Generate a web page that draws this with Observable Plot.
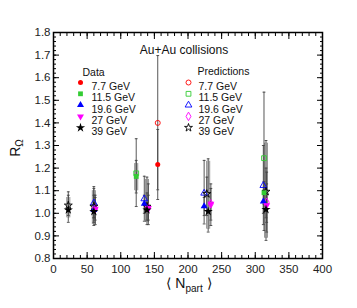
<!DOCTYPE html>
<html><head><meta charset="utf-8">
<script src="https://cdn.jsdelivr.net/npm/d3@7"></script>
<script src="https://cdn.jsdelivr.net/npm/@observablehq/plot@0.6"></script>
<style>
body{margin:0;background:#fff;}
#chart{position:relative;width:357px;height:308px;font-family:"Liberation Sans",Arial,sans-serif;}
</style>
</head><body><div id="chart"></div>
<script>
// ---- data ----
const energies = ["7.7 GeV", "11.5 GeV", "19.6 GeV", "27 GeV", "39 GeV"];
const colors = ["#ff0000", "#33cc33", "#0000ff", "#ff00ff", "#000000"];

// measured (filled markers)
const data77_n = [155];            const data77_r = [1.216];
const data77_lo = [1.061];         const data77_hi = [1.371];
const data115_n = [123, 313];      const data115_r = [1.163, 1.091];
const data115_lo = [1.09, 1.04];   const data115_hi = [1.234, 1.14];
const data196_n = [60, 135, 224, 312];  const data196_r = [1.015, 1.042, 1.031, 1.052];
const data196_lo = [0.98, 1.0, 0.99, 1.0]; const data196_hi = [1.05, 1.08, 1.07, 1.1];
const data27_n = [62, 141, 234, 317];   const data27_r = [1.02, 1.023, 1.042, 1.035];
const data27_lo = [0.95, 0.95, 0.946, 0.917]; const data27_hi = [1.08, 1.13, 1.13, 1.182];
const data39_n = [22, 60, 139, 230, 316]; const data39_r = [1.015, 1.008, 1.015, 1.008, 1.017];
const data39_lo = [0.96, 0.946, 0.95, 0.917, 0.88]; const data39_hi = [1.095, 1.118, 1.16, 1.241, 1.322];
// systematic boxes
const sys_n = [22, 60, 123, 139, 230, 316];
const sys_lo = [0.98, 0.95, 1.1, 0.96, 0.93, 0.89];
const sys_hi = [1.07, 1.1, 1.22, 1.15, 1.23, 1.31];

// predictions (open markers)
const pred77_n = [155];            const pred77_r = [1.40];
const pred77_lo = [1.104];         const pred77_hi = [1.698];
const pred115_n = [123, 313];      const pred115_r = [1.177, 1.244];
const pred115_lo = [1.03, 0.924];  const pred115_hi = [1.33, 1.536];
const pred196_n = [60, 135, 224, 312]; const pred196_r = [1.046, 1.064, 1.089, 1.123];
const pred196_lo = [0.96, 0.965, 0.953, 0.95]; const pred196_hi = [1.11, 1.164, 1.234, 1.3];
const pred27_n = [62, 141, 234, 317];  const pred27_r = [1.02, 1.023, 1.042, 1.049];
const pred27_lo = [0.97, 0.97, 0.97, 0.96]; const pred27_hi = [1.07, 1.08, 1.11, 1.13];
const pred39_n = [22, 60, 139, 228, 316]; const pred39_r = [1.035, 1.03, 1.03, 1.086, 1.096];
const pred39_lo = [0.99, 0.98, 0.97, 0.99, 0.98]; const pred39_hi = [1.08, 1.08, 1.09, 1.16, 1.2];

const xTicks = [0, 50, 100, 150, 200, 250, 300, 350, 400];
const yTicks = [0.8, 0.9, 1.0, 1.1, 1.2, 1.3, 1.4, 1.5, 1.6, 1.7, 1.8];
const xMinor = d3.range(0, 401, 10);
const yMinor = d3.range(80, 181, 2).map(v => v / 100);

const titleText = "Au+Au collisions";
const dataHeader = "Data";
const predHeader = "Predictions";

// ---- build tables ----
function rows(n, r, lo, hi, s, kind) {
  return n.map((v, i) => ({n: v, r: r[i], lo: lo[i], hi: hi[i], s, kind}));
}
const dataSets = [
  rows(data77_n, data77_r, data77_lo, data77_hi, 0, "data"),
  rows(data115_n, data115_r, data115_lo, data115_hi, 1, "data"),
  rows(data196_n, data196_r, data196_lo, data196_hi, 2, "data"),
  rows(data27_n, data27_r, data27_lo, data27_hi, 3, "data"),
  rows(data39_n, data39_r, data39_lo, data39_hi, 4, "data")
];
const predSets = [
  rows(pred77_n, pred77_r, pred77_lo, pred77_hi, 0, "pred"),
  rows(pred115_n, pred115_r, pred115_lo, pred115_hi, 1, "pred"),
  rows(pred196_n, pred196_r, pred196_lo, pred196_hi, 2, "pred"),
  rows(pred27_n, pred27_r, pred27_lo, pred27_hi, 3, "pred"),
  rows(pred39_n, pred39_r, pred39_lo, pred39_hi, 4, "pred")
];
const allRows = [...dataSets.flat(), ...predSets.flat()];
const sysRows = sys_n.map((v, i) => ({n: v, lo: sys_lo[i], hi: sys_hi[i]}));

// ---- symbols ----
const downTriangle = {draw(ctx, size) {
  const s = Math.sqrt(size * 4 / Math.sqrt(3)) / 2;
  const h = s * Math.sqrt(3);
  ctx.moveTo(-s, -h / 3); ctx.lineTo(s, -h / 3); ctx.lineTo(0, 2 * h / 3); ctx.closePath();
}};
const capSym = {draw(ctx, size) {
  const w = Math.sqrt(size) / 2;
  ctx.moveTo(-w, 0); ctx.lineTo(w, 0);
}};
const dataSymbols = ["circle", "square", "triangle", downTriangle, "star"];
const dataR = [2.5, 2.7, 2.6, 2.6, 2.9];
const predSymbols = ["circle", "square", "triangle", "diamond", "star"];
const predR = [2.5, 2.7, 2.5, 2.6, 2.5];

const font = "Liberation Sans, Arial, sans-serif";
const marks = [];

// tick labels
marks.push(Plot.axisX({ticks: xTicks, tickSize: 0, tickPadding: 6, tickFormat: d => String(d), fontSize: 11.5, fill: "#222", label: null}));
marks.push(Plot.axisY({ticks: yTicks, tickSize: 0, tickPadding: 3, tickFormat: d => d.toFixed(1), fontSize: 11.5, fill: "#222", label: null}));
// inward tick marks on all four sides
marks.push(Plot.axisX({ticks: xTicks, tickSize: 6, dy: -6, text: null, label: null}));
marks.push(Plot.axisX({ticks: xMinor, tickSize: 3, dy: -3, text: null, label: null}));
marks.push(Plot.axisX({anchor: "top", ticks: xTicks, tickSize: 6, dy: 6, text: null, label: null}));
marks.push(Plot.axisX({anchor: "top", ticks: xMinor, tickSize: 3, dy: 3, text: null, label: null}));
marks.push(Plot.axisY({ticks: yTicks, tickSize: 6, dx: 6, text: null, label: null}));
marks.push(Plot.axisY({ticks: yMinor, tickSize: 3, dx: 3, text: null, label: null}));
marks.push(Plot.axisY({anchor: "right", ticks: yTicks, tickSize: 6, dx: -6, text: null, label: null}));
marks.push(Plot.axisY({anchor: "right", ticks: yMinor, tickSize: 3, dx: -3, text: null, label: null}));

// systematic boxes
marks.push(Plot.ruleX(sysRows, {x: "n", y1: "lo", y2: "hi", stroke: "#8a8a8a", strokeWidth: 4}));
marks.push(Plot.ruleX(sysRows, {x: "n", y1: "lo", y2: "hi", stroke: "#d8d8d8", strokeWidth: 2.4}));
// error bars
marks.push(Plot.ruleX(allRows, {x: "n", y1: "lo", y2: "hi", stroke: "#444", strokeWidth: 0.9}));
marks.push(Plot.dot(allRows, {x: "n", y: "lo", symbol: capSym, r: 1.6, stroke: "#444", strokeWidth: 0.9, fill: "none"}));
marks.push(Plot.dot(allRows, {x: "n", y: "hi", symbol: capSym, r: 1.6, stroke: "#444", strokeWidth: 0.9, fill: "none"}));

// predictions (open)
predSets.forEach((set, k) => {
  marks.push(Plot.dot(set, {x: "n", y: "r", symbol: predSymbols[k], r: predR[k], stroke: colors[k], strokeWidth: 0.9, fill: "none"}));
});
// data (filled)
dataSets.forEach((set, k) => {
  marks.push(Plot.dot(set, {x: "n", y: "r", symbol: dataSymbols[k], r: dataR[k], fill: colors[k], stroke: "none"}));
});

// title
marks.push(Plot.text([titleText], {text: d => d, frameAnchor: "top", dx: -4, dy: 13, fontSize: 12, fill: "#111", fontFamily: font}));
// legends
marks.push(Plot.text([dataHeader], {text: d => d, frameAnchor: "top-left", textAnchor: "start", dx: 29, dy: 36, fontSize: 10.5, fill: "#111", fontFamily: font}));
marks.push(Plot.text([predHeader], {text: d => d, frameAnchor: "top-left", textAnchor: "start", dx: 144, dy: 35, fontSize: 10.5, fill: "#111", fontFamily: font}));
energies.forEach((e, k) => {
  const dy = 50 + k * 11.3;
  marks.push(Plot.dot([e], {frameAnchor: "top-left", dx: 27, dy, symbol: dataSymbols[k], r: dataR[k], fill: colors[k], stroke: "none"}));
  marks.push(Plot.text([e], {text: d => d, frameAnchor: "top-left", textAnchor: "start", dx: 38, dy, fontSize: 10.5, fill: "#111", fontFamily: font}));
  marks.push(Plot.dot([e], {frameAnchor: "top-left", dx: 135, dy, symbol: predSymbols[k], r: predR[k], stroke: colors[k], fill: "none", strokeWidth: 0.9}));
  marks.push(Plot.text([e], {text: d => d, frameAnchor: "top-left", textAnchor: "start", dx: 145, dy, fontSize: 10.5, fill: "#111", fontFamily: font}));
});
marks.push(Plot.frame({stroke: "#000", strokeWidth: 1.5}));

const chart = Plot.plot({
  width: 357, height: 308,
  marginLeft: 53, marginRight: 35, marginTop: 32, marginBottom: 50,
  style: {fontFamily: font, background: "white", overflow: "visible"},
  x: {domain: [0, 400], label: null},
  y: {domain: [0.8, 1.8], label: null},
  marks
});

// axis titles with subscripts
const svg = d3.select(chart);
const yl = svg.append("text")
  .attr("transform", "translate(20,148) rotate(-90)")
  .attr("text-anchor", "middle")
  .attr("font-family", font).attr("font-size", 14).attr("fill", "#111");
yl.append("tspan").text("R");
yl.append("tspan").attr("font-size", 10).attr("dy", 3).text("Ω");

const xl = svg.append("text")
  .attr("x", 189).attr("y", 288)
  .attr("text-anchor", "middle")
  .attr("font-family", font).attr("font-size", 14).attr("fill", "#111");
xl.append("tspan").text("⟨ N");
xl.append("tspan").attr("font-size", 10).attr("dy", 4).text("part");
xl.append("tspan").attr("dy", -4).text(" ⟩");

document.getElementById("chart").appendChild(chart);
</script>
</body></html>
